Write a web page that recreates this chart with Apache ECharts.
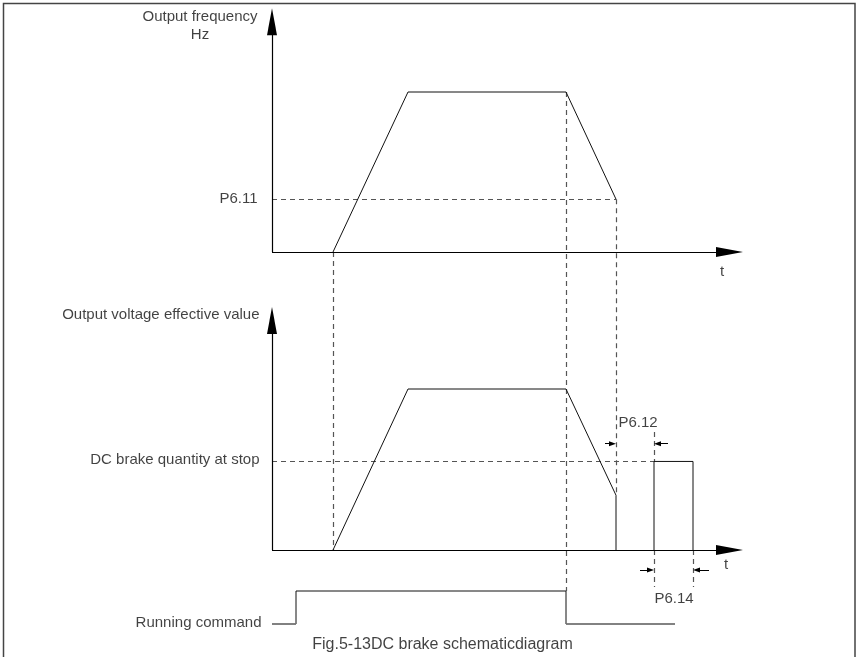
<!DOCTYPE html>
<html>
<head>
<meta charset="utf-8">
<script src="https://cdn.jsdelivr.net/npm/echarts@6/dist/echarts.min.js"></script>
<style>
  html, body { margin: 0; padding: 0; background: #fff; }
  #chart { width: 859px; height: 657px; }
</style>
</head>
<body>
<div id="chart"></div>
<script>
// schematic time instants (1 unit = one tenth of the time axis step)
const freqTime = [6.1, 13.6, 29.4, 34.4];
const freqHz = [0, 50, 50, 16.5];
const voltTime = [6.1, 13.6, 29.4, 34.4, 34.4];
const voltPct = [0, 100, 100, 34, 0];
const brakeTime = [38.2, 38.2, 42.1, 42.1];
const brakePct = [0, 55, 55, 0];
const runTime = [0, 2.4, 2.4, 29.4, 29.4, 40.3];
const runState = [0, 0, 1, 1, 0, 0];
const p611Hz = 16.5;
const dcBrakePct = 55;
const timeAxisEnd = 47.1;
const freqAxisTop = 76.2;
const voltAxisTop = 151;

// panel layout on the shared vertical scale
const FREQ_BASE = 372, FREQ_K = 3.2;
const VOLT_BASE = 74, VOLT_K = 1.61;
const RUN_BASE = 0, RUN_K = 33;
const fy = v => FREQ_BASE + v * FREQ_K;
const vy = v => VOLT_BASE + v * VOLT_K;
const ry = v => RUN_BASE + v * RUN_K;

// arrow heads are centred on the line end, so pull the end back by half a head
const AXIS_HEAD = 27, DIM_HEAD = 7;
const T_PX = 10; // px per time unit (471px / 47.1)

const pairs = (xs, ys, map) => xs.map((x, i) => [x, map(ys[i])]);

let chart = echarts.init(document.getElementById('chart'));

const polyline = (name, data, color, width) => ({
  name: name,
  type: 'line',
  data: data,
  showSymbol: false,
  clip: false,
  silent: true,
  animation: false,
  lineStyle: { color: color, width: width || 1 }
});

const runPts = pairs(runTime, runState, ry);

const labelPt = (x, y, text, opts) => ({ value: [x, y], name: text, label: opts });

const font = { fontFamily: 'Liberation Sans, Arial, sans-serif', fontSize: 15, color: '#111' };

const dimArrow = (from, tip, level) => {
  const back = (DIM_HEAD / 2) / T_PX * Math.sign(tip - from);
  return { coords: [[from, vy(level)], [tip - back, vy(level)]] };
};

chart.setOption({
  animation: false,
  grid: { left: 272, right: 116, top: 9, bottom: 0 },
  xAxis: { type: 'value', min: 0, max: timeAxisEnd, show: false },
  yAxis: { type: 'value', min: -33, max: 615, show: false },
  graphic: [{
    type: 'rect',
    shape: { x: 3.5, y: 3.5, width: 851.5, height: 700 },
    style: { fill: 'none', stroke: '#444', lineWidth: 1.5 },
    silent: true
  }],
  series: [
    {
      name: 'guides',
      type: 'lines',
      coordinateSystem: 'cartesian2d',
      silent: true,
      animation: false,
      clip: false,
      lineStyle: { color: '#555', width: 1.2, type: [5, 4], opacity: 1 },
      data: [
        { coords: [[0, fy(p611Hz)], [freqTime[3], fy(p611Hz)]] },
        { coords: [[freqTime[0], fy(0)], [voltTime[0], vy(0)]] },
        { coords: [[freqTime[2], fy(freqHz[2])], [runTime[3], ry(1)]] },
        { coords: [[freqTime[3], fy(p611Hz)], [voltTime[3], vy(voltPct[3])]] },
        { coords: [[0, vy(dcBrakePct)], [brakeTime[1], vy(dcBrakePct)]] },
        { coords: [[brakeTime[1], vy(73.3)], [brakeTime[1], vy(dcBrakePct)]] },
        { coords: [[brakeTime[0], vy(0)], [brakeTime[0], vy(-23)]] },
        { coords: [[brakeTime[3], vy(0)], [brakeTime[3], vy(-23)]] }
      ]
    },
    polyline('Output frequency', pairs(freqTime, freqHz, fy), '#111'),
    polyline('Output voltage', pairs(voltTime, voltPct, vy), '#111'),
    polyline('DC brake', pairs(brakeTime, brakePct, vy), '#111'),
    polyline('Running command', runPts, '#111'),
    polyline('Running low 1', runPts.slice(0, 2), '#808080', 1.6),
    polyline('Running low 2', runPts.slice(4), '#808080', 1.6),
    {
      name: 'axes',
      type: 'lines',
      coordinateSystem: 'cartesian2d',
      silent: true,
      animation: false,
      clip: false,
      symbol: ['none', 'triangle'],
      symbolSize: [[10, AXIS_HEAD], [10, AXIS_HEAD]],
      lineStyle: { color: '#000', width: 1.2, type: 'solid', opacity: 1 },
      itemStyle: { color: '#000' },
      data: [
        { coords: [[0, fy(0)], [0, fy(freqAxisTop) - AXIS_HEAD / 2]] },
        { coords: [[0, fy(0)], [timeAxisEnd - AXIS_HEAD / 2 / T_PX, fy(0)]] },
        { coords: [[0, vy(0)], [0, vy(voltAxisTop) - AXIS_HEAD / 2]] },
        { coords: [[0, vy(0)], [timeAxisEnd - AXIS_HEAD / 2 / T_PX, vy(0)]] }
      ]
    },
    {
      name: 'dimension arrows',
      type: 'lines',
      coordinateSystem: 'cartesian2d',
      silent: true,
      animation: false,
      clip: false,
      symbol: ['none', 'triangle'],
      symbolSize: [[5, DIM_HEAD], [5, DIM_HEAD]],
      lineStyle: { color: '#000', width: 1, type: 'solid', opacity: 1 },
      itemStyle: { color: '#000' },
      data: [
        dimArrow(33.3, freqTime[3], 66),
        dimArrow(39.6, brakeTime[1], 66),
        dimArrow(36.8, brakeTime[0], -12.4),
        dimArrow(43.7, brakeTime[3], -12.4)
      ]
    },
    {
      name: 'labels',
      type: 'scatter',
      silent: true,
      animation: false,
      clip: false,
      symbolSize: 1,
      itemStyle: { color: 'rgba(0,0,0,0)' },
      label: Object.assign({ show: true, formatter: '{b}' }, font),
      data: [
        labelPt(0, 615, 'Output frequency\nHz', { position: 'inside', offset: [-72, 17], align: 'center', lineHeight: 18 }),
        labelPt(0, fy(p611Hz), 'P6.11', { position: 'left', distance: 14 }),
        labelPt(timeAxisEnd, fy(0), 't', { position: 'inside', offset: [-21, 20], align: 'center' }),
        labelPt(0, vy(voltAxisTop), 'Output voltage effective value', { position: 'left', distance: 12, offset: [0, 8] }),
        labelPt(0, vy(dcBrakePct), 'DC brake quantity at stop', { position: 'left', distance: 12, offset: [0, -2] }),
        labelPt(freqTime[3], vy(78.9), 'P6.12', { position: 'right', distance: 2 }),
        labelPt(brakeTime[0], vy(-30.4), 'P6.14', { position: 'right', distance: 0 }),
        labelPt(timeAxisEnd, vy(0), 't', { position: 'inside', offset: [-17, 15], align: 'center' }),
        labelPt(0, ry(0), 'Running command', { position: 'left', distance: 10, offset: [0, -1] }),
        labelPt(17.05, -21, 'Fig.5-13DC brake schematicdiagram', { position: 'inside', align: 'center', fontSize: 16 })
      ]
    }
  ]
});
</script>
</body>
</html>
